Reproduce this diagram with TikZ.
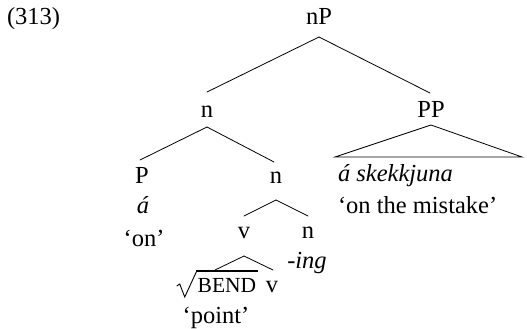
\documentclass[tikz,border=0pt]{standalone}
\usepackage{fontspec}
\setmainfont{Liberation Serif}
\begin{document}
\begin{tikzpicture}[x=1pt,y=-1pt,
  lab/.style={inner sep=0pt,outer sep=0pt,anchor=base,font=\fontsize{24.5}{28}\selectfont},
  labw/.style={lab,anchor=base west},
  edge/.style={line width=0.8pt,line cap=round},
  radical/.style={line width=0.9pt,line join=miter}]
\useasboundingbox (0,0) rectangle (527,329);
% labels
\node[labw] (ex) at (7,25) {(313)};
\node[lab] (nP) at (319,25) {nP};
\node[lab] (n1) at (207,117) {n};
\node[lab] (PP) at (431,117) {PP};
\node[lab] (P) at (142,183) {P};
\node[lab] (n2) at (276,183) {n};
\node[lab] (a) at (143,213) {\itshape á};
\node[lab] (on) at (144,246) {‘on’};
\node[lab] (v) at (244,238) {v};
\node[lab] (n3) at (308,238) {n};
\node[lab] (ing) at (307,268) {\itshape -ing};
\node[lab,font=\fontsize{21.5}{24}\selectfont] (bend) at (227,292) {BEND};
\node[lab] (v2) at (272,292) {v};
\node[lab] (point) at (216,323) {‘point’};
\node[labw] (sk) at (338,181) {\itshape á skekkjuna};
\node[labw] (mis) at (338,213) {‘on the mistake’};
\coordinate (roofL) at (335,157);
\coordinate (roofR) at (522,157);
\coordinate (rootT) at (215,270);
% radical sign over BEND
\draw[radical] ([xshift=-21pt,yshift=6pt]bend.base west) -- ([xshift=-18pt,yshift=8pt]bend.base west)
  -- ([xshift=-13pt,yshift=-5pt]bend.base west) -- ([xshift=-1pt,yshift=21pt]bend.base west);
\draw[line width=2.2pt] ([xshift=-1.3pt,yshift=21pt]bend.base west) -- ([xshift=1.5pt,yshift=21pt]bend.base east);
% connectors
\draw[edge] ([yshift=-12pt]nP.base) -- ([yshift=25pt]n1.base);
\draw[edge] ([yshift=-12pt]nP.base) -- ([xshift=-1pt,yshift=24pt]PP.base);
\draw[edge] ([yshift=-10pt]n1.base) -- ([xshift=-2pt,yshift=23pt]P.base);
\draw[edge] ([yshift=-10pt]n1.base) -- ([xshift=-2pt,yshift=21pt]n2.base);
\draw[edge] ([yshift=-8pt]PP.base) -- (roofL) -- (roofR) -- cycle;
\draw[edge] ([yshift=-17pt]n2.base) -- ([yshift=22pt]v.base);
\draw[edge] ([yshift=-17pt]n2.base) -- ([yshift=22pt]n3.base);
\draw[edge] ([yshift=-18pt]v.base) -- (rootT);
\draw[edge] ([yshift=-18pt]v.base) -- ([xshift=1pt,yshift=22pt]v2.base);
\end{tikzpicture}
\end{document}
